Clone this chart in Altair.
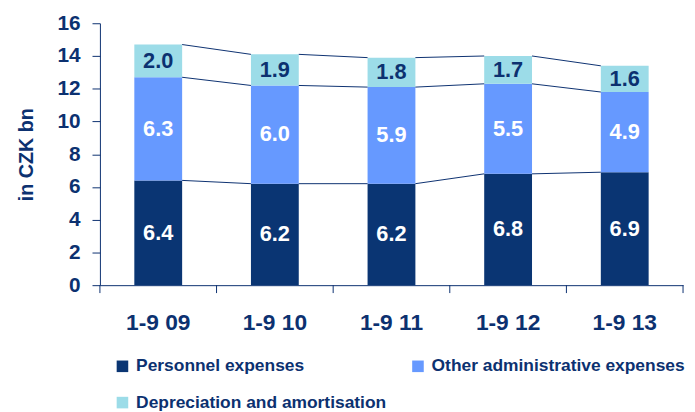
import altair as alt
import pandas as pd

categories = ["1-9 09", "1-9 10", "1-9 11", "1-9 12", "1-9 13"]
series = ["Personnel expenses", "Other administrative expenses", "Depreciation and amortisation"]
personnel = [6.4, 6.2, 6.2, 6.8, 6.9]
other_admin = [6.3, 6.0, 5.9, 5.5, 4.9]
depreciation = [2.0, 1.9, 1.8, 1.7, 1.6]
y_ticks = [0, 2, 4, 6, 8, 10, 12, 14, 16]
colors = ["#0A3573", "#6699FF", "#9CDCE8"]
label_colors = ["#FFFFFF", "#FFFFFF", "#0C3170"]
NAVY = "#0C3170"

W, H = 590, 265
STEP = W / len(categories)
P_INNER = 0.59
BW = STEP * (1 - P_INNER)

values = [personnel, other_admin, depreciation]
rows = []
conn = []
for ci, cat in enumerate(categories):
    cum = 0.0
    for si, s in enumerate(series):
        v = values[si][ci]
        rows.append({"cat": cat, "series": s, "value": v, "order": si,
                     "mid": cum + v / 2, "tcolor": label_colors[si]})
        cum += v
        if ci < len(categories) - 1:
            nxt = sum(values[k][ci + 1] for k in range(si + 1))
            conn.append({"cat": cat, "cat2": categories[ci + 1], "y": cum, "y2": nxt})
df = pd.DataFrame(rows)
dconn = pd.DataFrame(conn)
dticks = pd.DataFrame({"cat": categories})

xscale = alt.Scale(domain=categories, paddingInner=P_INNER, paddingOuter=P_INNER / 2)
yscale = alt.Scale(domain=[0, 16], nice=False)

xaxis = alt.Axis(title=None, labelAngle=0, ticks=False, labelFont="Liberation Sans",
                 labelFontWeight="bold", labelFontSize=23, labelColor=NAVY,
                 labelPadding=27, domainColor=NAVY, domainWidth=1)
yaxis = alt.Axis(title="in CZK bn", values=y_ticks, grid=False,
                 labelOverlap=False, labelFlush=False,
                 labelFont="Liberation Sans", labelFontWeight="bold", labelFontSize=21,
                 labelColor=NAVY, labelPadding=12, tickSize=8, tickColor=NAVY,
                 domainColor=NAVY, titleFont="Liberation Sans", titleFontSize=20,
                 titleFontWeight="bold", titleColor=NAVY, titlePadding=21)

X = alt.X("cat:N", scale=xscale, sort=categories, axis=xaxis)

bars = alt.Chart(df).mark_bar().encode(
    x=X,
    y=alt.Y("value:Q", stack="zero", scale=yscale, axis=yaxis),
    color=alt.Color("series:N", scale=alt.Scale(domain=series, range=colors),
                    sort=series,
                    legend=alt.Legend(title=None, orient="none", legendX=14, legendY=338,
                                      direction="horizontal",
                                      columns=2, columnPadding=23, rowPadding=18, padding=0,
                                      symbolType="square", symbolSize=137, symbolStrokeWidth=0,
                                      labelFont="Liberation Sans", labelFontWeight="bold",
                                      labelFontSize=17.6, labelColor=NAVY, labelOffset=5,
                                      labelLimit=400)),
    order=alt.Order("order:Q"),
)

labels = alt.Chart(df).mark_text(font="Liberation Sans", fontWeight="bold", fontSize=22,
                                 baseline="middle").encode(
    x=X,
    y=alt.Y("mid:Q", scale=yscale, axis=yaxis),
    text=alt.Text("value:Q", format=".1f"),
    color=alt.Color("tcolor:N", scale=None),
)

connectors = alt.Chart(dconn).mark_rule(color=NAVY, strokeWidth=1,
                                        xOffset=BW / 2, x2Offset=-BW / 2).encode(
    x=X,
    x2="cat2:N",
    y=alt.Y("y:Q", scale=yscale, axis=yaxis),
    y2="y2:Q",
)

ticks_left = alt.Chart(dticks).mark_rule(color=NAVY, strokeWidth=1, xOffset=-STEP / 2).encode(
    x=X,
    y=alt.value(H), y2=alt.value(H + 8),
)
ticks_right = alt.Chart(dticks).transform_filter(
    alt.datum.cat == categories[-1]
).mark_rule(color=NAVY, strokeWidth=1, xOffset=STEP / 2).encode(
    x=X,
    y=alt.value(H), y2=alt.value(H + 8),
)

chart = alt.layer(bars, connectors, labels, ticks_left, ticks_right).properties(
    width=W, height=H,
    autosize=alt.AutoSizeParams(type="none"),
    padding={"left": 93, "top": 13, "right": 4, "bottom": 135},
).configure_view(stroke=None)

chart.save("out.html", embed_options={"renderer": "svg", "actions": False})
